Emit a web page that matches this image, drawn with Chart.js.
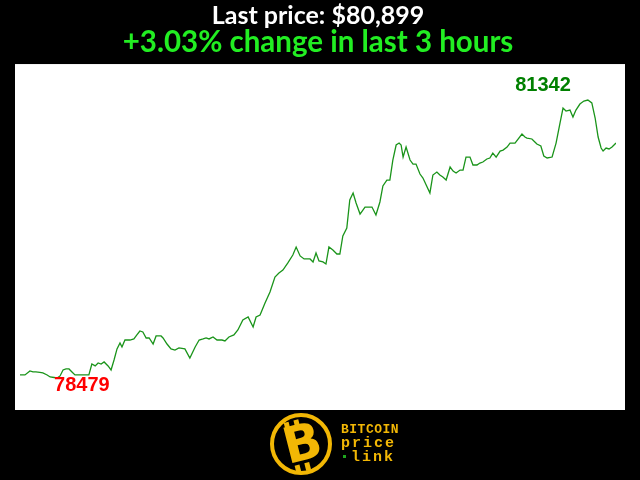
<!DOCTYPE html>
<html>
<head>
<meta charset="utf-8">
<script src="https://cdn.jsdelivr.net/npm/chart.js@4/dist/chart.umd.min.js"></script>
<style>
  html, body { margin: 0; padding: 0; background: #000; }
  #price-chart { display: block; }
</style>
</head>
<body>
<canvas id="price-chart" width="640" height="480"></canvas>
<script>
// minutes since start of the 3-hour window
const minutes = [
  0, 1.5, 3.0, 3.9, 4.8, 6.0, 6.9, 8.2, 9.1, 10.3, 11.2, 12.1, 13.0, 13.9, 14.8, 15.7, 16.6, 18.1, 19.6, 20.8,
  21.7, 22.7, 23.6, 24.5, 25.4, 26.6, 27.5, 28.4, 29.3, 30.2, 30.8, 31.7, 33.2, 34.4, 35.3, 36.2, 37.1, 38.1, 39.0, 40.2,
  41.1, 42.6, 43.2, 44.4, 45.6, 46.8, 48.0, 49.8, 51.3, 52.9, 54.1, 55.3, 56.2, 57.1, 58.3, 59.5, 61.0, 61.9, 63.1, 64.6,
  65.8, 67.3, 68.9, 70.4, 71.3, 72.5, 74.0, 75.5, 77.0, 78.2, 79.4, 80.9, 82.4, 83.4, 84.6, 85.8, 87.6, 88.5, 89.4, 90.3,
  91.5, 92.4, 93.3, 94.5, 95.7, 96.6, 97.5, 98.7, 99.6, 100.6, 101.5, 102.7, 104.2, 106.3, 107.5, 108.7, 109.6, 110.8, 111.7, 112.6,
  113.6, 114.5, 115.1, 115.7, 116.6, 117.8, 118.7, 119.6, 120.8, 121.7, 123.8, 124.7, 125.9, 126.8, 127.7, 128.7, 129.9, 130.8, 131.7, 132.9,
  133.8, 134.7, 135.9, 136.8, 138.0, 138.9, 139.8, 141.0, 141.9, 142.8, 143.8, 145.0, 145.9, 147.1, 148.0, 149.5, 151.6, 152.5, 153.1, 154.6,
  155.5, 156.1, 157.3, 158.2, 159.2, 160.7, 161.9, 163.1, 164.0, 164.9, 166.1, 167.0, 167.9, 169.1, 170.3, 171.5, 172.7, 173.7, 174.6, 175.5,
  176.1, 177.0, 177.9, 178.8, 180.0
];

// BTC price in USD
const prices = [
  78510, 78510, 78551, 78541, 78541, 78536, 78531, 78510, 78489, 78484, 78479, 78500, 78561, 78572, 78572, 78541, 78510, 78510, 78510, 78510,
  78623, 78603, 78634, 78623, 78644, 78603, 78561, 78664, 78778, 78840, 78798, 78870, 78870, 78881, 78922, 78963, 78953, 78891, 78891, 78829,
  78912, 78912, 78891, 78829, 78778, 78767, 78788, 78778, 78685, 78798, 78870, 78881, 78891, 78881, 78901, 78870, 78870, 78860, 78901, 78922,
  78973, 79076, 79107, 79004, 79107, 79128, 79252, 79365, 79519, 79561, 79591, 79664, 79746, 79828, 79736, 79705, 79705, 79674, 79767, 79684,
  79674, 79653, 79828, 79797, 79756, 79756, 79942, 80024, 80312, 80385, 80282, 80168, 80240, 80240, 80158, 80292, 80457, 80518, 80518, 80724,
  80879, 80899, 80879, 80755, 80858, 80724, 80683, 80683, 80580, 80539, 80385, 80570, 80601, 80570, 80549, 80518, 80652, 80611, 80590, 80621,
  80621, 80755, 80755, 80673, 80673, 80693, 80704, 80735, 80745, 80796, 80755, 80817, 80827, 80858, 80899, 80899, 80992, 80961, 80951, 80941,
  80910, 80889, 80869, 80766, 80745, 80755, 80899, 81106, 81260, 81229, 81239, 81167, 81239, 81301, 81332, 81342, 81312, 81157, 80961, 80848,
  80817, 80848, 80838, 80858, 80899
];

const lastPrice = 'Last price: $80,899';
const changeText = '+3.03% change in last 3 hours';
const yMin = 78149;
const yMax = 81713;

const ctx = document.getElementById('price-chart').getContext('2d');

// белая подложка под графиком
const plotBackground = {
  id: 'plotBackground',
  beforeDraw(chart) {
    const { ctx, chartArea } = chart;
    ctx.save();
    ctx.fillStyle = '#ffffff';
    ctx.fillRect(chartArea.left - 5, chartArea.top, chartArea.width + 14, chartArea.height);
    ctx.restore();
  }
};

// подписи максимума и минимума
const extremeLabels = {
  id: 'extremeLabels',
  afterDatasetsDraw(chart) {
    const { ctx } = chart;
    const meta = chart.getDatasetMeta(0);
    const maxIdx = prices.indexOf(Math.max(...prices));
    const minIdx = prices.indexOf(Math.min(...prices));
    const pMax = meta.data[maxIdx];
    const pMin = meta.data[minIdx];
    ctx.save();
    ctx.font = 'bold 20px "Liberation Sans", Arial, sans-serif';
    ctx.textBaseline = 'alphabetic';
    ctx.fillStyle = '#008000';
    ctx.textAlign = 'right';
    ctx.fillText(String(prices[maxIdx]), pMax.x - 17, pMax.y - 9);
    ctx.fillStyle = '#ff0000';
    ctx.textAlign = 'left';
    ctx.fillText(String(prices[minIdx]), pMin.x - 3, pMin.y + 13);
    ctx.restore();
  }
};

// логотип внизу
const logo = {
  id: 'logo',
  afterDraw(chart) {
    const { ctx } = chart;
    const cx = 301, cy = 444;
    ctx.save();
    ctx.fillStyle = '#000';
    ctx.beginPath();
    ctx.arc(cx, cy, 31, 0, Math.PI * 2);
    ctx.fill();
    ctx.strokeStyle = '#f2b705';
    ctx.lineWidth = 4;
    ctx.beginPath();
    ctx.arc(cx, cy, 29, 0, Math.PI * 2);
    ctx.stroke();
    ctx.translate(cx + 2, cy + 2);
    ctx.rotate(-0.25);
    ctx.fillStyle = '#f2b705';
    ctx.fillRect(-13, -27, 5, 8);
    ctx.fillRect(-3, -27, 5, 8);
    ctx.fillRect(-13, 17, 5, 8);
    ctx.fillRect(-3, 17, 5, 8);
    ctx.font = 'bold 50px "DejaVu Sans", sans-serif';
    ctx.textAlign = 'center';
    ctx.textBaseline = 'middle';
    ctx.fillText('B', 0, 1);
    ctx.restore();

    ctx.save();
    ctx.fillStyle = '#f2b705';
    ctx.font = 'bold 13px "Liberation Mono", "DejaVu Sans Mono", monospace';
    ctx.textBaseline = 'alphabetic';
    ctx.textAlign = 'left';
    ctx.letterSpacing = '0.5px';
    ctx.fillText('BITCOIN', 341, 433);
    ctx.font = 'bold 15px "Liberation Mono", "DejaVu Sans Mono", monospace';
    ctx.letterSpacing = '2px';
    ctx.fillText('price', 341, 447);
    ctx.fillText('link', 351, 461);
    ctx.fillStyle = '#1fa51f';
    ctx.fillRect(343, 455, 3, 3);
    ctx.restore();
  }
};

const chart = new Chart(ctx, {
  type: 'line',
  data: {
    datasets: [{
      data: minutes.map((m, i) => ({ x: m, y: prices[i] })),
      borderColor: '#1a941a',
      borderWidth: 1.3,
      pointRadius: 0,
      tension: 0,
      fill: false
    }]
  },
  options: {
    responsive: false,
    animation: false,
    layout: { padding: { left: 20, right: 24, top: 0, bottom: 70 } },
    plugins: {
      legend: { display: false },
      tooltip: { enabled: false },
      title: {
        display: true,
        text: lastPrice,
        color: '#ffffff',
        font: { family: 'Lato', size: 25, weight: 'bold', lineHeight: 0.9 },
        padding: { top: 5, bottom: 0 }
      },
      subtitle: {
        display: true,
        text: changeText,
        color: '#22ee22',
        font: { family: 'Lato', size: 29.5, weight: 'bold', lineHeight: 0.9 },
        padding: { top: 2, bottom: 8 }
      }
    },
    scales: {
      x: { type: 'linear', min: 0, max: 180, display: false },
      y: { min: yMin, max: yMax, display: false }
    }
  },
  plugins: [plotBackground, extremeLabels, logo]
});
</script>
</body>
</html>
